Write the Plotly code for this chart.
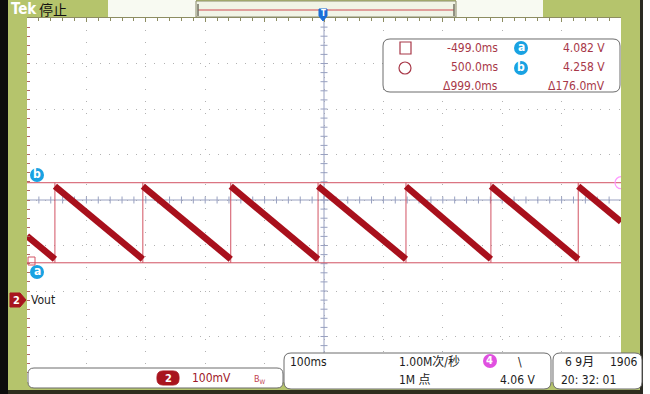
import numpy as np
import plotly.graph_objects as go

# ---- values ----
T_RANGE = [-500.0, 500.0]          # ms, 100 ms/div, 10 div
V_RANGE = [3.82, 4.62]             # V, 100 mV/div, 8 div
V_CENTER = 4.22
edge_ms = [-453, -305, -157, -10, 138, 281, 428]   # sawtooth reset instants
v_peak = 4.250                     # level just after reset
v_valley = 4.090                   # level just before reset
v_left = 4.141                     # trace level at left screen edge
v_right = 4.172                    # trace level at right screen edge
cursor_t = [-499.0, 500.0]         # ms
cursor_v = [4.082, 4.258]          # V (a, b)

readout_rows = [("-499.0ms", "4.082 V"), ("500.0ms", "4.258 V"), ("\u0394999.0ms", "\u0394176.0mV")]

# ---- pixel helpers (plot area 27..621 x 18..382 of a 650x394 page) ----
L, R, T, B = 27, 621, 18, 382
def px(x): return (x - L) / (R - L)
def py(y): return (B - y) / (B - T)

OLIVE = "#b5c46c"
TRACE = "#a8101c"
CURS = "#d25262"
GRID = "#b2b2b2"
CROSS = "#98a0c0"
RED_TXT = "#a83848"
CYAN = "#19a2e2"
FONT = "Liberation Sans Narrow, DejaVu Sans Condensed, Liberation Sans, sans-serif"
CJK = "Noto Sans CJK SC"

def rrect(x0, y0, x1, y1, r):
    segs = [("M", x0 + r, y0), ("L", x1 - r, y0), ("Q", x1, y0, x1, y0 + r), ("L", x1, y1 - r),
            ("Q", x1, y1, x1 - r, y1), ("L", x0 + r, y1), ("Q", x0, y1, x0, y1 - r),
            ("L", x0, y0 + r), ("Q", x0, y0, x0 + r, y0)]
    out = ""
    for seg in segs:
        nums = seg[1:]
        out += seg[0] + " ".join(f"{px(nums[i]):.5f},{py(nums[i+1]):.5f}"
                                 for i in range(0, len(nums), 2)) + " "
    return out + "Z"

def poly(points):
    return "M" + " L".join(f"{px(x):.5f},{py(y):.5f}" for x, y in points) + " Z"

shapes, annots = [], []

def rect(x0, y0, x1, y1, fill, line=None, lw=0):
    shapes.append(dict(type="rect", xref="paper", yref="paper", x0=px(x0), x1=px(x1),
                       y0=py(y1), y1=py(y0), fillcolor=fill,
                       line=dict(color=line or fill, width=lw)))

def box(x0, y0, x1, y1, r=5, fill="white", line="#6c6c6c"):
    shapes.append(dict(type="path", xref="paper", yref="paper", path=rrect(x0, y0, x1, y1, r),
                       fillcolor=fill, line=dict(color=line, width=1)))

def circ(cx, cy, r, fill, line=None, lw=0):
    shapes.append(dict(type="circle", xref="paper", yref="paper", x0=px(cx - r), x1=px(cx + r),
                       y0=py(cy + r), y1=py(cy - r), fillcolor=fill,
                       line=dict(color=line or fill, width=lw)))

def txt(x, y, s, size=12, color="#1c1c1c", anchor="left", family=FONT):
    annots.append(dict(x=px(x), y=py(y), xref="paper", yref="paper", text=s, showarrow=False,
                       xanchor=anchor, yanchor="middle", font=dict(size=size, color=color, family=family)))

fig = go.Figure()

# centre crosshair with its minor ticks
fig.add_trace(go.Scatter(x=T_RANGE, y=[V_CENTER, V_CENTER], mode="lines",
                         line=dict(color=CROSS, width=1), hoverinfo="skip"))
fig.add_trace(go.Scatter(x=[0, 0], y=V_RANGE, mode="lines",
                         line=dict(color=CROSS, width=1), hoverinfo="skip"))
tx = np.arange(-480, 500, 20)
fig.add_trace(go.Scatter(x=tx, y=np.full(len(tx), V_CENTER), mode="markers", hoverinfo="skip",
                         marker=dict(symbol="line-ns", size=5, line=dict(color=CROSS, width=1))))
ty = np.arange(3.84, 4.61, 0.02)
fig.add_trace(go.Scatter(x=np.zeros(len(ty)), y=ty, mode="markers", hoverinfo="skip",
                         marker=dict(symbol="line-ew", size=5, line=dict(color=CROSS, width=1))))

# horizontal cursors
for v in cursor_v:
    fig.add_trace(go.Scatter(x=T_RANGE, y=[v, v], mode="lines",
                             line=dict(color=CURS, width=1), hoverinfo="skip"))

# reset edges (thin) and ramps (thick band)
rx, ry = [], []
for e in edge_ms:
    rx += [e, e, None]
    ry += [cursor_v[0], cursor_v[1], None]
fig.add_trace(go.Scatter(x=rx, y=ry, mode="lines", line=dict(color=CURS, width=1), hoverinfo="skip"))

fx = [T_RANGE[0], edge_ms[0], None]
fy = [v_left, v_valley, None]
for a, b in zip(edge_ms[:-1], edge_ms[1:]):
    fx += [a, b, None]
    fy += [v_peak, v_valley, None]
fx += [edge_ms[-1], T_RANGE[1]]
fy += [v_peak, v_right]
fig.add_trace(go.Scatter(x=fx, y=fy, mode="lines", line=dict(color=TRACE, width=6.5), hoverinfo="skip"))

# circle cursor marker at right edge (clipped by the frame)
fig.add_trace(go.Scatter(x=[cursor_t[1]], y=[cursor_v[1]], mode="markers", hoverinfo="skip",
                         marker=dict(symbol="circle-open", size=12, line=dict(color=CURS, width=1.2))))

# ---- frame ----
rect(0, 0, 8, 394, "#0c0c0c")
rect(640, 0, 643, 394, "#2a2a22")
rect(643, 0, 650, 394, "white")
rect(8, 390, 640, 394, "#2e2e1e")
rect(108, 0, 196, 17, "#f8faf2")
rect(456, 0, 543, 17, "#f8faf2")
rect(196, 1, 456, 17, "#f1f4e6", "#8a8a6a", 1)
shapes.append(dict(type="line", xref="paper", yref="paper", x0=px(198), x1=px(454), y0=py(10), y1=py(10),
                   line=dict(color="#d04850", width=1.2)))
for xb in (198, 454):
    shapes.append(dict(type="line", xref="paper", yref="paper", x0=px(xb), x1=px(xb), y0=py(4), y1=py(16),
                       line=dict(color="#707060", width=1.5)))
shapes.append(dict(type="path", xref="paper", yref="paper", fillcolor="#1a6ed8", line=dict(color="#1a6ed8", width=1),
                   path=poly([(319, 9), (327, 9), (327, 16), (323, 21), (319, 16)])))
txt(323, 13, "<b>T</b>", 8, "white", "center")
txt(9, 9, "<b>Tek</b>", 15, "white")
txt(37, 9, "停止", 14, "#101010", family=CJK)

# cursor readout box
box(383, 39, 620, 92, 7)
rect(400, 42, 411, 54, "rgba(0,0,0,0)", RED_TXT, 1.2)
circ(405, 68, 6, "rgba(0,0,0,0)", RED_TXT, 1.2)
for i, (tval, vval) in enumerate(readout_rows):
    yy = 48 + 19 * i
    txt(500, yy, tval, 12, RED_TXT, "right")
    txt(607, yy, vval, 12, RED_TXT, "right")
for lab, yy in (("a", 48), ("b", 68)):
    circ(521, yy, 7, CYAN)
    txt(521, yy - 1, f"<b>{lab}</b>", 12, "white", "center")

# cursor badges on the left
for lab, yy in (("b", 175), ("a", 272)):
    circ(37, yy, 7, CYAN)
    txt(37, yy - 1, f"<b>{lab}</b>", 12, "white", "center")
rect(28, 257, 35, 265, "rgba(0,0,0,0)", CURS, 1)

# channel 2 marker
shapes.append(dict(type="path", xref="paper", yref="paper", fillcolor="#a8141e", line=dict(color="#a8141e", width=1),
                   path=poly([(10, 293), (20, 293), (26, 300), (20, 307), (10, 307)])))
txt(16, 300, "<b>2</b>", 11, "white", "center")
txt(29, 300, "Vout", 12, "#1c1c1c")

# status bars
box(28, 368, 283, 388, 6)
shapes.append(dict(type="path", xref="paper", yref="paper", fillcolor="#a8141e", line=dict(color="#a8141e", width=1),
                   path=rrect(157, 371, 179, 385, 6)))
txt(168, 378, "<b>2</b>", 11, "white", "center")
txt(190, 378, "100mV", 12, "#a01828")
txt(252, 379, "B<sub>W</sub>", 9, "#c04050")

box(284, 353, 551, 389, 7)
txt(288, 362, "100ms", 12)
txt(397, 362, "1.00M次/秒", 12, family=FONT + ", " + CJK)
circ(490, 361, 7, "#e050e0")
txt(490, 360, "<b>4</b>", 11, "white", "center")
txt(516, 362, "\\", 12)
txt(397, 380, "1M 点", 12, family=FONT + ", " + CJK)
txt(537, 380, "4.06 V", 12, "#1c1c1c", "right")

box(553, 353, 642, 389, 7)
txt(563, 362, "6 9月", 12, family=FONT + ", " + CJK)
txt(640, 362, "1906", 12, "#1c1c1c", "right")
txt(559, 380, "20: 32: 01", 12)

fig.update_layout(
    width=650, height=394, margin=dict(l=L, r=650 - R, t=T, b=394 - B),
    paper_bgcolor=OLIVE, plot_bgcolor="white", showlegend=False,
    shapes=shapes, annotations=annots,
    xaxis=dict(range=T_RANGE, tick0=-500, dtick=100, showgrid=True, gridcolor=GRID, gridwidth=1,
               griddash="1px,10.88px", zeroline=False, showticklabels=False, side="top",
               ticks="inside", ticklen=4, tickcolor="#8d8d62", showline=True, linecolor="#8d8d62",
               minor=dict(dtick=20, tick0=-500, ticks="inside", ticklen=3, tickcolor="#8d8d62", showgrid=False),
               fixedrange=True),
    yaxis=dict(range=V_RANGE, tick0=3.82, dtick=0.1, showgrid=True, gridcolor=GRID, gridwidth=1,
               griddash="1px,8.1px", zeroline=False, showticklabels=False,
               ticks="inside", ticklen=3, tickcolor="#b06868",
               minor=dict(dtick=0.02, tick0=3.82, ticks="inside", ticklen=3, tickcolor="#b06868", showgrid=False),
               fixedrange=True),
)

fig.write_html("out.html", config={"displayModeBar": False},
               post_script="document.body.style.margin='0';")
